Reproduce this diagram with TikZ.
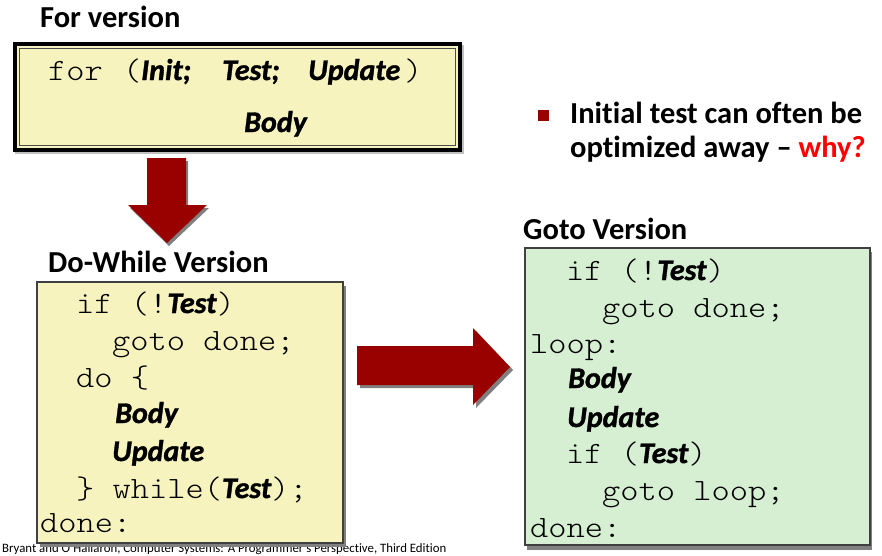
\documentclass[tikz,border=0pt]{standalone}
\usepackage{fontspec}
\usepackage{xcolor}
\usepackage{tikz}
\usetikzlibrary{positioning,calc}
\setmainfont{Carlito}[Ligatures={TeX,NoCommon}]
\newfontfamily\codefont{lmmonolt10-regular.otf}[FakeStretch=1.12]
\newfontfamily\argfont{Carlito Bold Italic}[FakeBold=1.2]

\definecolor{codeyellow}{RGB}{246,243,191}
\definecolor{codegreen}{RGB}{214,239,210}
\definecolor{arrowred}{RGB}{153,0,0}
\definecolor{shadowgray}{RGB}{128,128,128}

\newcommand{\ph}[1]{{\argfont\fontsize{30}{36}\selectfont #1}}

\tikzset{
    codeline/.style={anchor=base west, inner sep=0pt, font={\codefont\fontsize{31}{36}\selectfont}},
    argline/.style={anchor=base west, inner sep=0pt, font={\argfont\fontsize{30}{36}\selectfont}},
    heading/.style={anchor=base west, inner sep=0pt, font={\bfseries\fontsize{30.5}{35}\selectfont}},
    blockarrow/.style={fill=arrowred, draw=none},
    arrowshadow/.style={fill=shadowgray, draw=none}
}

\begin{document}
\begin{tikzpicture}[x=1pt, y=-1pt]
    \useasboundingbox (0,0) rectangle (882,555);

    % footer (partly hidden by the box)
    \node[anchor=base west, inner sep=0pt, font=\fontsize{12.8}{15}\selectfont] (cite) at (2,552)
        {Bryant and O'Hallaron, Computer Systems: A Programmer's Perspective, Third Edition};

    % for version
    \node[heading] (forhead) at (40,27) {For version};
    \fill[shadowgray!50] (15,45) rectangle (464,154);
    \draw[line width=4pt, fill=codeyellow] (15,44) rectangle (460,150);
    \draw[line width=1pt, draw=black!70] (19.5,48.5) rectangle (455.5,145.5);
    \node[codeline] (forkw) at (48,80) {for};
    \node[codeline] (fopen) at (123,80) {(};
    \node[argline] (finit) at (141,80) {Init;};
    \node[argline] (ftest) at (222,80) {Test;};
    \node[argline] (fupd) at (308,80) {Update};
    \node[codeline] (fclose) at (404,80) {)};
    \node[argline] (fbody) at (244,132) {Body};

    % down arrow
    \fill[arrowshadow] (149,161) -- (188,161) -- (188,208) -- (209,208) -- (169,246) -- (130,208) -- (149,208) -- cycle;
    \fill[blockarrow] (147,158) -- (186,158) -- (186,205) -- (207,205) -- (167,243) -- (128,205) -- (147,205) -- cycle;

    % do-while version
    \node[heading] (dohead) at (48,272) {Do-While Version};
    \fill[shadowgray] (40,286) rectangle (346,546.5);
    \draw[line width=1.5pt, draw=black!75, fill=codeyellow] (37,282) rectangle (343,543);
    \node[codeline] (dif) at (76,313) {if (!\ph{Test})};
    \node[codeline] (dgoto) at (112,350) {goto done;};
    \node[codeline] (ddo) at (76,387) {do \{};
    \node[argline] (dbody) at (115,423) {Body};
    \node[argline] (dupd) at (112,461) {Update};
    \node[codeline] (dwhile) at (76,498) {\} while(\ph{Test});};
    \node[codeline] (ddone) at (40,532) {done:};

    % right arrow
    \fill[arrowshadow] (360,349) -- (476,349) -- (476,331) -- (513,370) -- (476,408) -- (476,388) -- (360,388) -- cycle;
    \fill[blockarrow] (357,346) -- (473,346) -- (473,328) -- (510,367) -- (473,405) -- (473,385) -- (357,385) -- cycle;

    % bullet
    \node[fill=arrowred, minimum size=11pt, inner sep=0pt] (bul) at (543,115) {};
    \node[anchor=base west, inner sep=0pt, font={\bfseries\fontsize{30.5}{36}\selectfont}] (bline1) at (570,123) {Initial test can often be};
    \node[anchor=base west, inner sep=0pt, font={\bfseries\fontsize{30.5}{36}\selectfont}] (bline2) at (570,157) {optimized away -- {\color{red}why?}};

    % goto version
    \node[heading] (gotohead) at (523,239) {Goto Version};
    \fill[shadowgray] (527,252) rectangle (872,550);
    \draw[line width=1.5pt, draw=black!75, fill=codegreen] (525,248) rectangle (870,545);
    \node[codeline] (gif) at (566,280) {if (!\ph{Test})};
    \node[codeline] (ggoto) at (602,317) {goto done;};
    \node[codeline] (gloop) at (530,353) {loop:};
    \node[argline] (gbody) at (568,388) {Body};
    \node[argline] (gupd) at (567,427) {Update};
    \node[codeline] (gtest) at (566,463) {if (\ph{Test})};
    \node[codeline] (ggoto2) at (602,500) {goto loop;};
    \node[codeline] (gdone) at (530,537) {done:};
\end{tikzpicture}
\end{document}
